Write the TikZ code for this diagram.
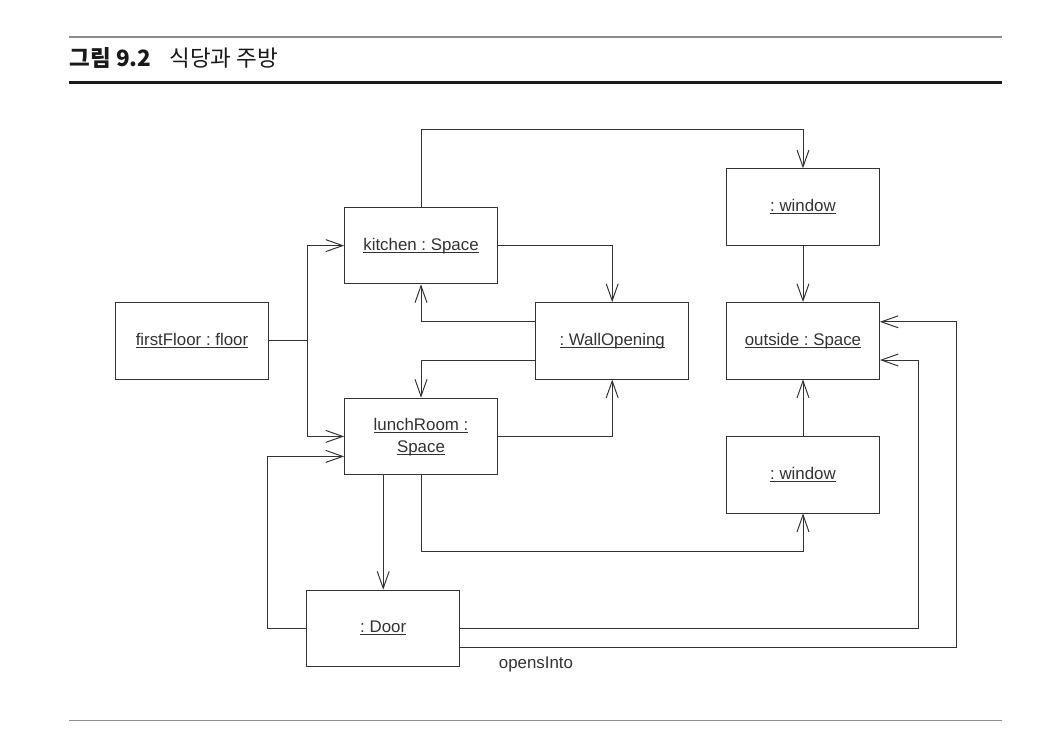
\documentclass[tikz,border=0pt]{standalone}
\usepackage{fontspec}
\setmainfont{Liberation Sans}
\newfontfamily\krfont{Noto Sans CJK KR}
\usetikzlibrary{arrows.meta}
\frenchspacing
\newcommand{\objname}[1]{\underline{\raisebox{0pt}[\height][0pt]{#1}}}

\begin{document}
\begin{tikzpicture}[>={Straight Barb[length=12pt,width=8.5pt]}, line width=0.7pt, color=black!80,
    object/.style={draw, rectangle, minimum width=3.82cm, minimum height=1.91cm, align=center, font=\fontsize{12}{15.5}\selectfont},
    rule/.style={draw=black!45, line width=0.8pt},
    headrule/.style={draw=black!90, line width=2.2pt}]

    \useasboundingbox (0,0) rectangle (26.55,-18.75);

    % heading
    \draw[rule] (1.725,-0.925) -- (25.04,-0.925);
    \node[anchor=base west, inner sep=0pt, text=black!90, font=\krfont\fontsize{16}{18}\selectfont] (title) at (1.725,-1.667) {\textbf{그림 9.2}\hspace{0.45cm}식당과 주방};
    \draw[headrule] (1.725,-2.06) -- (25.04,-2.06);
    \draw[rule] (1.725,-18.02) -- (25.04,-18.02);

    \node[object] (floor) at (4.8,-8.52) {\objname{firstFloor : floor}};
    \node[object] (kitchen) at (10.525,-6.14) {\objname{kitchen : Space}};
    \node[object] (wall) at (15.305,-8.52) {\objname{: WallOpening}};
    \node[object] (win1) at (20.075,-5.175) {\objname{: window}};
    \node[object] (outside) at (20.075,-8.52) {\objname{outside : Space}};
    \node[object] (lunch) at (10.525,-10.91) {\objname{lunchRoom :}\\\objname{Space}};
    \node[object] (win2) at (20.075,-11.87) {\objname{: window}};
    \node[object] (door) at (9.58,-15.71) {\objname{: Door}};

    \draw[->] (floor.east) -- ++(0.96,0) |- (kitchen.west);
    \draw[->] (floor.east) -- ++(0.96,0) |- (lunch.west);
    \draw[->] (kitchen.north) -- ++(0,1.925) -| (win1.north);
    \draw[->] (kitchen.east) -| (wall.north);
    \draw[->] ([yshift=0.475cm]wall.west) -| (kitchen.south);
    \draw[->] ([yshift=-0.48cm]wall.west) -| (lunch.north);
    \draw[->] (lunch.east) -| (wall.south);
    \draw[->] (win1.south) -- (outside.north);
    \draw[->] (win2.north) -- (outside.south);
    \draw[->] (lunch.south) -- ++(0,-1.9) -| (win2.south);
    \draw[->] (lunch.south -| door.north) -- (door.north);
    \draw[->] (door.west) -- ++(-0.96,0) |- ([yshift=-0.5cm]lunch.west);
    \draw[->] (door.east) -- ++(11.45,0) |- ([yshift=-0.48cm]outside.east);
    \draw[->] ([yshift=-0.47cm]door.east) -- ++(12.4,0) |- ([yshift=0.475cm]outside.east);

    \node[font=\fontsize{12}{14}\selectfont] (opens) at (13.4,-16.62) {opensInto};
\end{tikzpicture}
\end{document}
